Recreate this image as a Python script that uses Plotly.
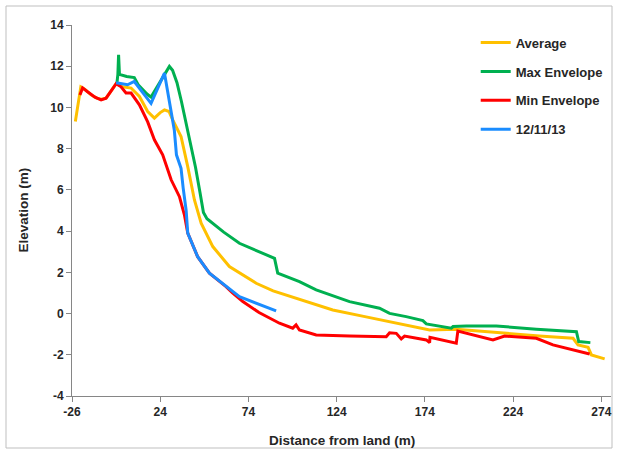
import plotly.graph_objects as go

# Beach profile: elevation vs distance from land
avg_x = [-24.1, -21.0, -19.0, -15.0, -12.0, -9.5, -6.7, -3.0, -1.0, 2.7, 7.5, 12.2,
         16.9, 20.7, 24.0, 26.4, 29.0, 31.1, 33.0, 35.8, 39.6, 43.4, 47.2, 53.8,
         63.2, 78.4, 88.0, 101.0, 121.8, 140.0, 157.8, 176.7, 191.8, 214.5, 238.9,
         258.0, 260.8, 266.5, 268.4, 275.9]
avg_y = [9.32, 11.0, 10.9, 10.6, 10.45, 10.4, 10.45, 10.9, 11.15, 11.0, 10.94, 10.53,
         9.8, 9.48, 9.75, 9.88, 9.8, 9.4, 9.1, 8.59, 7.13, 5.51, 4.38, 3.25,
         2.28, 1.47, 1.1, 0.74, 0.17, -0.15, -0.47, -0.8, -0.76, -0.93, -1.09,
         -1.2, -1.52, -1.64, -2.01, -2.2]

max_x = [-0.5, 0.0, 0.4, 0.9, 5.0, 9.3, 11.5, 14.0, 16.5, 18.8, 24.0, 29.2, 31.0,
         33.5, 36.0, 38.5, 41.0, 44.0, 46.5, 48.5, 50.5, 55.0, 60.0, 68.9, 80.0,
         88.8, 90.6, 102.9, 112.4, 131.3, 148.3, 154.0, 163.4, 172.9, 174.8, 189.0,
         190.0, 197.5, 214.5, 237.2, 259.9, 261.2, 267.8]
max_y = [11.2, 11.6, 12.55, 11.6, 11.5, 11.45, 11.1, 10.85, 10.65, 10.5, 11.25, 11.99,
         11.8, 11.2, 10.3, 9.3, 8.3, 7.1, 5.9, 4.9, 4.6, 4.3, 3.95, 3.41, 3.0,
         2.68, 1.96, 1.55, 1.15, 0.58, 0.26, 0.01, -0.15, -0.34, -0.5, -0.71,
         -0.63, -0.6, -0.6, -0.76, -0.88, -1.36, -1.41]

min_x = [-21.5, -20.0, -17.0, -13.0, -9.5, -6.7, -3.0, -1.0, 1.8, 4.6, 7.5, 12.2,
         16.9, 20.7, 25.4, 30.2, 34.9, 37.7, 39.6, 45.2, 51.9, 61.3, 65.0, 70.8,
         80.0, 91.6, 99.1, 101.0, 102.9, 112.4, 131.3, 148.3, 152.1, 154.0, 157.8,
         160.6, 162.5, 174.8, 176.7, 176.9, 191.8, 192.7, 201.2, 212.6, 219.2,
         237.2, 246.6, 267.4]
min_y = [10.6, 10.95, 10.75, 10.5, 10.37, 10.45, 10.9, 11.15, 11.0, 10.7, 10.7, 10.13,
         9.3, 8.43, 7.7, 6.49, 5.67, 4.79, 3.9, 2.76, 1.96, 1.31, 1.0, 0.58,
         0.05, -0.47, -0.71, -0.55, -0.8, -1.04, -1.09, -1.12, -1.12, -0.93, -0.96,
         -1.23, -1.09, -1.28, -1.41, -1.15, -1.44, -0.85, -1.04, -1.28, -1.09,
         -1.2, -1.52, -1.96]

survey_x = [-1.0, 5.5, 9.3, 18.8, 26.4, 29.2, 32.0, 33.2, 35.8, 37.0, 38.7, 39.6,
            45.2, 51.9, 59.4, 68.9, 89.7]
survey_y = [11.2, 11.1, 11.26, 10.2, 11.67, 10.37, 8.9, 7.7, 7.05, 6.1, 5.0, 3.9,
            2.76, 1.96, 1.47, 0.82, 0.13]

x_ticks = [-26, 24, 74, 124, 174, 224, 274]
y_ticks = [-4, -2, 0, 2, 4, 6, 8, 10, 12, 14]

series = [
    ("Average", avg_x, avg_y, "#FFC000"),
    ("Max Envelope", max_x, max_y, "#00B050"),
    ("Min Envelope", min_x, min_y, "#FF0000"),
    ("12/11/13", survey_x, survey_y, "#1A8CFF"),
]

fig = go.Figure()
for name, xs, ys, color in series:
    fig.add_trace(go.Scatter(x=xs, y=ys, mode="lines", name=name, legendgroup=name,
                             line=dict(color=color, width=3)))

FONT = "Liberation Sans"
axis_color = "#868686"

fig.update_layout(
    width=618, height=452,
    margin=dict(l=72, r=7, t=25, b=56),
    paper_bgcolor="white", plot_bgcolor="white",
    font=dict(family=FONT, color="#262626"),
    showlegend=True,
    legend=dict(x=0.749, y=0.993, xanchor="left", yanchor="top",
                font=dict(family=FONT, size=13, color="#262626"),
                bgcolor="rgba(0,0,0,0)", tracegroupgap=9),
    xaxis=dict(range=[-26, 279.5], tickmode="array", tickvals=x_ticks,
               ticktext=[str(v) for v in x_ticks],
               showgrid=False, zeroline=False, showline=True, linecolor=axis_color,
               linewidth=1, ticks="outside", ticklen=5, tickcolor=axis_color,
               tickfont=dict(family=FONT, size=12, color="#262626", weight="bold")),
    yaxis=dict(range=[-4, 14], tickmode="array", tickvals=y_ticks,
               ticktext=[str(v) for v in y_ticks],
               showgrid=False, zeroline=False, showline=True, linecolor=axis_color,
               linewidth=1, ticks="outside", ticklen=5, tickcolor=axis_color,
               tickfont=dict(family=FONT, size=12, color="#262626", weight="bold")),
)

fig.update_layout(legend_font_weight="bold")

# axis titles
fig.add_annotation(text="<b>Distance from land (m)</b>", xref="paper", yref="paper",
                   x=0.5, y=(396 - 440) / 371, xanchor="center", yanchor="middle",
                   showarrow=False, font=dict(family=FONT, size=13.5, color="#262626"))
fig.add_annotation(text="<b>Elevation (m)</b>", xref="paper", yref="paper",
                   x=(23 - 72) / 539, y=0.5, xanchor="center", yanchor="middle",
                   textangle=-90, showarrow=False,
                   font=dict(family=FONT, size=13.5, color="#262626"))

# chart border
fig.add_shape(type="rect", xref="paper", yref="paper",
              x0=(6 - 72) / 539, x1=(612 - 72) / 539,
              y0=(396 - 448) / 371, y1=(396 - 6) / 371,
              line=dict(color="#BFBFBF", width=1), fillcolor="rgba(0,0,0,0)",
              layer="below")

fig.write_html("out.html")
